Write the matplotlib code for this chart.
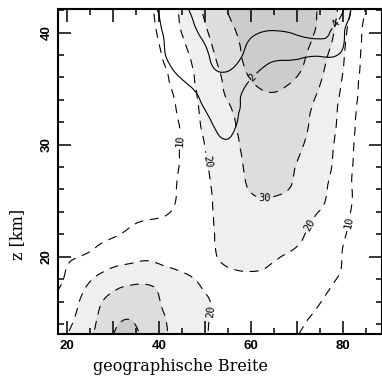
import numpy as np
import matplotlib
matplotlib.use("Agg")
import matplotlib.pyplot as plt
import matplotlib.tri as mtri
from matplotlib.ticker import MultipleLocator, FuncFormatter

# Grid of latitudes (deg N) and heights (km)
lat = [15, 20, 25, 30, 35, 40, 45, 50, 55, 60, 65, 70, 75, 80, 85, 90]
z_main = [12, 14, 16, 18, 20, 22, 24, 26, 28, 30, 32, 34, 36, 38, 40, 42, 44]

# Shaded / dashed field, one row per height (bottom to top)
field_main = [
    [13, 21.5, 31, 41, 41.5, 33, 25, 20.5, 15, 13.5, 12, 9, 6.5, 4.5, 3, 2.5],
    [11, 18.5, 27, 38.5, 39.8, 33.5, 24, 20.8, 15, 14, 12.5, 11, 7.7, 5, 3, 2.5],
    [8.5, 15, 25, 33.5, 36, 30.3, 25, 21, 16.5, 15.5, 14, 12.5, 10.2, 6, 3, 2.5],
    [7, 11, 19.2, 25, 27.5, 27, 23.5, 18, 17.5, 18.3, 17.5, 15, 12, 8.7, 3, 2.5],
    [7, 9.2, 11.4, 15.9, 18.1, 17, 12.5, 16, 22.4, 23.5, 21, 17.7, 14, 9.7, 3, 2.5],
    [4, 5.5, 7, 9.2, 12.5, 13.5, 13, 17, 23.5, 26, 26, 22.5, 15.6, 11, 3, 2.5],
    [3, 4, 5, 6, 7.5, 8.5, 12.2, 17.5, 24.1, 27.5, 28, 25, 19.7, 13.5, 3.5, 3],
    [2.5, 3.5, 4, 4.8, 6, 7.3, 11.3, 18, 25.1, 30.4, 31, 28.5, 22, 14.5, 4, 3.5],
    [2, 3, 3.5, 4.3, 5.5, 7, 10.9, 19, 25.3, 32, 32.5, 29.7, 24, 14.9, 4.7, 4],
    [2, 3, 3.5, 4.3, 5.5, 7, 10.8, 20.2, 26, 33.7, 34.5, 31.5, 25.2, 15.6, 5.2, 4],
    [2, 3, 3.6, 4.5, 5.7, 7.5, 11.2, 22.2, 28, 34.7, 36, 33, 26.5, 16.7, 5.5, 4],
    [2, 3, 3.8, 4.8, 6, 8, 12.5, 23.5, 30.2, 36, 38.5, 35, 28, 17.7, 6.4, 4],
    [2, 3.2, 4, 5, 6.5, 8.8, 14, 25, 32, 40.6, 43, 39.8, 31, 19.5, 6.8, 4],
    [2, 3.5, 4.5, 5.5, 7.5, 9.6, 16.5, 27, 34.1, 43.9, 46, 43, 34, 21, 7.5, 4.5],
    [2, 3.5, 4.5, 6, 8, 10.6, 20.3, 29, 37, 45, 48, 44, 38, 23, 8, 4.5],
    [2, 4, 5, 7, 8.5, 11.5, 21.9, 31.3, 40.5, 46, 50, 46, 39, 26, 9.5, 5],
    [2, 3.5, 4.5, 6.5, 9, 13, 24, 34, 43, 48, 52, 48, 42, 28, 9.8, 5],
]

# Solid-contour field (upper levels only)
z_upper = [26, 28, 30, 32, 34, 36, 38, 40, 42, 44]
field_upper = [
    [-3, -3, -3, -3, -3, -2.5, -1.5, -0.5, 0, -0.5, -1, -1.5, -2, -2, -3, -3],
    [-3, -3, -3, -2.5, -2, -1.5, -0.5, 0.3, 0.8, 0, -0.5, -1, -1, -1.5, -2, -3],
    [-3, -3, -2.5, -2, -1.5, -1, 0.2, 1.0, 1.7, 0.5, 0, -0.5, -0.5, -1, -2, -3],
    [-3, -3, -2.5, -2, -1.5, -0.5, 0.5, 1.5, 2.5, 0.8, 0.2, 0, -0.2, -1, -2, -3],
    [-3, -3, -2.5, -2, -1, 0.2, 1.2, 2.3, 2.8, 1.2, 0.6, 0.4, 0.3, -0.5, -2, -3],
    [-3, -3, -2, -1.5, -1, 0.8, 2.1, 3.2, 3.6, 2.1, 1.2, 1.1, 0.9, 0.2, -2, -3],
    [-3, -3, -2, -1.5, -0.5, 1.5, 2.8, 3.8, 4.5, 3.4, 2.3, 2.3, 2.15, 1.6, -2, -3],
    [-3, -3, -2, -1, 0, 1.8, 3.0, 4.4, 4.8, 4.3, 3.8, 4.2, 4.4, 2.3, -2, -3],
    [-3, -3, -2, -1, 0.5, 2.1, 3.5, 5, 5.5, 6, 6, 6, 5.5, 4.1, -2, -3],
    [-3, -3, -2, -1, 0.8, 2.4, 4, 5.5, 6, 6.5, 6.5, 6.5, 6, 4.5, -1, -3],
]

fill_levels = [20, 30, 40, 100]
fill_colors = ["#efefef", "#dddddd", "#cccccc"]
dashed_levels = [10, 20, 30, 40]
solid_levels = [2, 4]

dashed_label_pos = [(43.9, 30.4), (50.7, 28.5), (63.0, 25.3), (73.5, 22.7),
                    (81.1, 23.1), (50.3, 15.2)]
solid_label_pos = [(60.4, 36.0), (77.8, 41.0)]

x_ticks_labeled = [20, 40, 60, 80]


def smooth_field(xs, zs, values, subdiv=3):
    """Triangulate a regular grid and refine it with a smooth cubic fit."""
    X, Z = np.meshgrid(xs, zs)
    v = np.asarray(values, float).ravel()
    # scale heights so the triangulation is well shaped
    tri = mtri.Triangulation(X.ravel(), Z.ravel() * 2.5)
    interp = mtri.CubicTriInterpolator(tri, v, kind="min_E")
    refiner = mtri.UniformTriRefiner(tri)
    tri_f, v_f = refiner.refine_field(v, triinterpolator=interp, subdiv=subdiv)
    tri_out = mtri.Triangulation(tri_f.x, tri_f.y / 2.5, tri_f.triangles)
    return tri_out, v_f


fig = plt.figure(figsize=(3.82, 3.80), dpi=100)
ax = fig.add_axes([0.152, 0.121, 0.848, 0.855])

tri_a, val_a = smooth_field(lat, z_main, field_main)
tri_b, val_b = smooth_field(lat, z_upper, field_upper)

ax.tricontourf(tri_a, val_a, levels=fill_levels, colors=fill_colors)
cs_d = ax.tricontour(tri_a, val_a, levels=dashed_levels, colors="black",
                     linewidths=0.8, linestyles=[(0, (8, 6))])
cs_s = ax.tricontour(tri_b, val_b, levels=solid_levels, colors="black",
                     linewidths=0.8, linestyles="solid")

plt.rcParams["font.family"] = "DejaVu Sans Mono"
ax.clabel(cs_d, levels=[10, 20, 30], manual=dashed_label_pos, fmt="%d",
          fontsize=7.5, inline=True, inline_spacing=2)
ax.clabel(cs_s, levels=solid_levels, manual=solid_label_pos, fmt="%d",
          fontsize=7.5, inline=True, inline_spacing=2)
plt.rcParams["font.family"] = "DejaVu Sans"

ax.set_xlim(18, 88.5)
ax.set_ylim(13.1, 42.1)

ax.xaxis.set_major_locator(MultipleLocator(10))
ax.xaxis.set_minor_locator(MultipleLocator(5))
ax.xaxis.set_major_formatter(FuncFormatter(
    lambda v, p: f"{v:.0f}" if round(v) in x_ticks_labeled else ""))
ax.yaxis.set_major_locator(MultipleLocator(10))
ax.yaxis.set_minor_locator(MultipleLocator(2))

ax.tick_params(which="both", direction="in", top=True, right=True, width=1.1)
ax.tick_params(which="major", length=9.4, pad=4)
ax.tick_params(which="minor", length=4.3)
ax.tick_params(axis="y", labelrotation=90)
for lbl in ax.get_xticklabels() + ax.get_yticklabels():
    lbl.set_family("Liberation Sans")
    lbl.set_fontweight("bold")
    lbl.set_fontsize(9.5)
for lbl in ax.get_yticklabels():
    lbl.set_va("center")

for sp in ax.spines.values():
    sp.set_linewidth(1.5)

ax.set_xlabel("geographische Breite", family="DejaVu Serif", fontsize=11.5)
ax.set_ylabel("z [km]", family="DejaVu Serif", fontsize=11.5)
ax.xaxis.set_label_coords(0.377, -0.075)
ax.yaxis.set_label_coords(-0.10, 0.305)

fig.savefig("out.png", dpi=100)
